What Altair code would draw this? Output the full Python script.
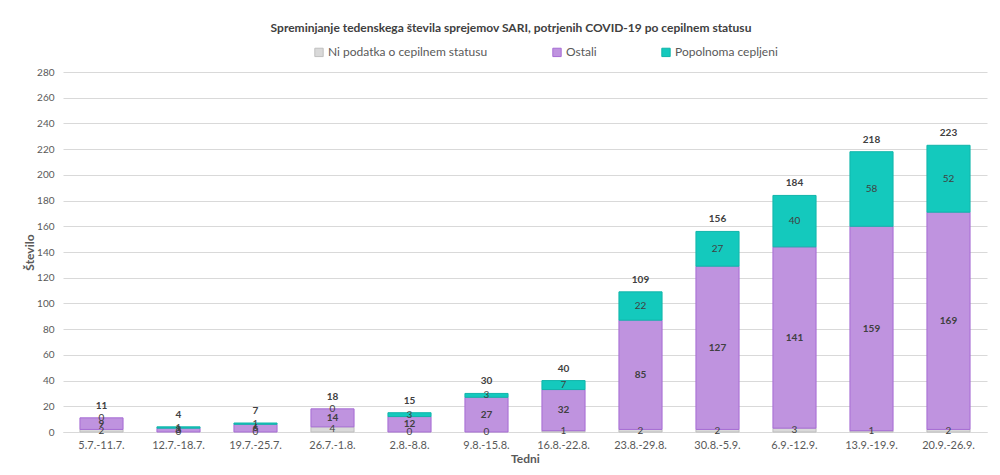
import altair as alt
import pandas as pd

weeks = ["5.7.-11.7.", "12.7.-18.7.", "19.7.-25.7.", "26.7.-1.8.", "2.8.-8.8.", "9.8.-15.8.",
         "16.8.-22.8.", "23.8.-29.8.", "30.8.-5.9.", "6.9.-12.9.", "13.9.-19.9.", "20.9.-26.9."]
ni_podatka = [2, 0, 0, 4, 0, 0, 1, 2, 2, 3, 1, 2]
ostali = [9, 3, 6, 14, 12, 27, 32, 85, 127, 141, 159, 169]
popolnoma = [0, 1, 1, 0, 3, 3, 7, 22, 27, 40, 58, 52]
y_ticks = [0, 20, 40, 60, 80, 100, 120, 140, 160, 180, 200, 220, 240, 260, 280]

series = ["Ni podatka o cepilnem statusu", "Ostali", "Popolnoma cepljeni"]
fills = ["#D9D9D9", "#BF93DF", "#14C9BD"]
strokes = ["#BFBFBF", "#A66CD4", "#10B5AA"]

rows = []
for i, w in enumerate(weeks):
    vals = [ni_podatka[i], ostali[i], popolnoma[i]]
    base = 0
    for k, s in enumerate(series):
        rows.append({"week": w, "series": s, "order": k, "value": vals[k],
                     "y0": base, "y1": base + vals[k], "mid": base + vals[k] / 2})
        base += vals[k]
df = pd.DataFrame(rows)
tot = pd.DataFrame({"week": weeks,
                    "total": [a + b + c for a, b, c in zip(ni_podatka, ostali, popolnoma)]})

FONT = "Lato"
x_axis = alt.Axis(labelAngle=0, labelColor="#595959", labelFontSize=11, labelFont=FONT,
                  titleFont=FONT, titleFontSize=12, titleFontWeight="bold", titleColor="#595959",
                  domainColor="#D9D9D9", ticks=False, labelPadding=7, titlePadding=3)
x_scale = alt.Scale(paddingInner=0.44, paddingOuter=0.22)
y_scale = alt.Scale(domain=[0, 280])
y_axis = alt.Axis(values=y_ticks, labelColor="#595959", labelFontSize=10, labelOverlap=False,
                  labelFont=FONT, titleFont=FONT, titleFontSize=12, titleFontWeight="bold",
                  titleColor="#595959", domain=False, ticks=False, labelPadding=9,
                  gridColor="#D9D9D9", titlePadding=0)


def X():
    return alt.X("week:N", sort=weeks, title="Tedni", scale=x_scale, axis=x_axis)


def Y(field):
    return alt.Y(field, scale=y_scale, title="Število", axis=y_axis)


bars = alt.Chart(df).transform_filter(alt.datum.value > 0).mark_bar(strokeWidth=1).encode(
    x=X(),
    y=Y("y0:Q"),
    y2="y1:Q",
    fill=alt.Fill("series:N", scale=alt.Scale(domain=series, range=fills), title=None,
                  legend=alt.Legend(orient="none", legendX=250, legendY=-26, direction="horizontal",
                                    symbolType="square", symbolSize=70, columnPadding=62,
                                    labelFont=FONT, labelFontSize=12, labelColor="#595959",
                                    symbolStrokeWidth=1, labelOffset=3)),
    stroke=alt.Stroke("series:N", scale=alt.Scale(domain=series, range=strokes), title=None),
)

seg_bold = alt.Chart(df).transform_filter(alt.datum.order == 1).mark_text(
    font=FONT, fontSize=10, fontWeight="bold", color="#404040").encode(
    x=X(), y=Y("mid:Q"), text="value:Q",
)
seg_norm = alt.Chart(df).transform_filter(alt.datum.order != 1).mark_text(
    font=FONT, fontSize=10, color="#404040").encode(
    x=X(), y=Y("mid:Q"), text="value:Q",
)

tot_labels = alt.Chart(tot).mark_text(font=FONT, fontSize=10, fontWeight="bold", color="#404040",
                                      dy=-12).encode(
    x=X(), y=Y("total:Q"), text="total:Q",
)

chart = alt.layer(bars, seg_bold, seg_norm, tot_labels).properties(
    width=924, height=360,
    autosize=alt.AutoSizeParams(type="none"),
    padding={"left": 55, "top": 64, "right": 5, "bottom": 34},
    title=alt.TitleParams("Spreminjanje tedenskega števila sprejemov SARI, potrjenih COVID-19 po cepilnem statusu",
                          font=FONT, fontSize=12, fontWeight="bold", color="#404040",
                          anchor="middle", dx=-14, offset=11),
).configure_view(stroke=None)

chart.save("out.html", embed_options={"renderer": "svg", "actions": False})
